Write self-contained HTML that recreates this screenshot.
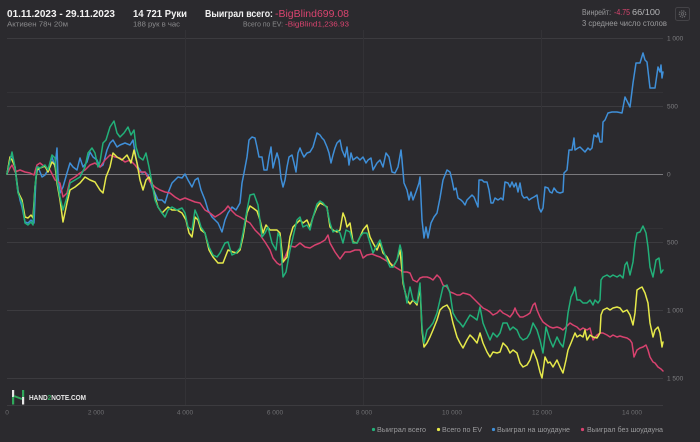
<!DOCTYPE html>
<html>
<head>
<meta charset="utf-8">
<style>
html,body{margin:0;padding:0;background:#2b2a2e;}
svg{display:block;}
text{font-family:"Liberation Sans",sans-serif;}
</style>
</head>
<body>
<svg width="700" height="442" viewBox="0 0 700 442" xmlns="http://www.w3.org/2000/svg">
<rect x="0" y="0" width="700" height="442" fill="#2b2a2e"/>

<!-- header -->
<text x="7" y="17" font-size="10.5" font-weight="bold" fill="#f2f2f2" textLength="108" lengthAdjust="spacingAndGlyphs">01.11.2023 - 29.11.2023</text>
<text x="7" y="26.5" font-size="7.5" fill="#8a8a8c" textLength="61" lengthAdjust="spacingAndGlyphs">Активен 78ч 20м</text>
<text x="133" y="17" font-size="10.5" font-weight="bold" fill="#f2f2f2" textLength="54" lengthAdjust="spacingAndGlyphs">14 721 Руки</text>
<text x="133" y="26.5" font-size="7.5" fill="#8a8a8c" textLength="47" lengthAdjust="spacingAndGlyphs">188 рук в час</text>
<text x="205" y="17" font-size="10.5" font-weight="bold" fill="#f2f2f2" textLength="68" lengthAdjust="spacingAndGlyphs">Выиграл всего:</text>
<text x="275" y="17" font-size="10.5" fill="#d9446f" textLength="74" lengthAdjust="spacingAndGlyphs">-BigBlind699.08</text>
<text x="243" y="26.5" font-size="7.5" fill="#8a8a8c" textLength="40" lengthAdjust="spacingAndGlyphs">Всего по EV:</text>
<text x="285" y="26.5" font-size="7.5" fill="#d9446f" textLength="64" lengthAdjust="spacingAndGlyphs">-BigBlind1,236.93</text>

<text x="582" y="15" font-size="8" fill="#9a9a9c" textLength="29" lengthAdjust="spacingAndGlyphs">Винрейт:</text>
<text x="614" y="15" font-size="8" fill="#d9446f" textLength="16" lengthAdjust="spacingAndGlyphs">-4.75</text>
<text x="632" y="15" font-size="8" fill="#b4b4b6" textLength="28" lengthAdjust="spacingAndGlyphs">66/100</text>
<text x="582" y="26" font-size="8" fill="#9a9a9c" textLength="85" lengthAdjust="spacingAndGlyphs">3 среднее число столов</text>
<rect x="675.5" y="7.5" width="14" height="13" rx="2" fill="none" stroke="#444347" stroke-width="1"/>
<circle cx="682.5" cy="14" r="3.2" fill="none" stroke="#6d6d70" stroke-width="1.2" stroke-dasharray="1.3 0.9"/>
<circle cx="682.5" cy="14" r="1.3" fill="none" stroke="#6d6d70" stroke-width="0.8"/>

<!-- grid -->
<g stroke="#3c3b3f" stroke-width="1">
<line x1="7" y1="38.5" x2="663" y2="38.5"/>
<line x1="7" y1="106.5" x2="663" y2="106.5"/>
<line x1="7" y1="242.5" x2="663" y2="242.5"/>
<line x1="7" y1="310.5" x2="663" y2="310.5"/>
<line x1="7" y1="378.5" x2="663" y2="378.5"/>
<line x1="7" y1="405.5" x2="663" y2="405.5"/>
</g>
<g stroke="#333236" stroke-width="1">
<line x1="7" y1="92.5" x2="663" y2="92.5"/>
<line x1="7" y1="228.5" x2="663" y2="228.5"/>
<line x1="185.5" y1="30" x2="185.5" y2="405"/>
<line x1="363.5" y1="30" x2="363.5" y2="405"/>
<line x1="541.5" y1="30" x2="541.5" y2="405"/>
</g>
<line x1="7" y1="174.5" x2="663" y2="174.5" stroke="#7a797d" stroke-width="1"/>

<!-- y labels -->
<g font-size="6.5" fill="#7d7d80">
<text x="667" y="40.5">1 000</text>
<text x="667" y="108.5">500</text>
<text x="667" y="176.5">0</text>
<text x="667" y="244.5">500</text>
<text x="667" y="312.5">1 000</text>
<text x="667" y="380.5">1 500</text>
</g>

<!-- x labels -->
<g font-size="6.5" fill="#6f6f72" text-anchor="middle">
<text x="7" y="414.5">0</text>
<text x="96" y="414.5">2 000</text>
<text x="185" y="414.5">4 000</text>
<text x="275" y="414.5">6 000</text>
<text x="364" y="414.5">8 000</text>
<text x="452" y="414.5">10 000</text>
<text x="542" y="414.5">12 000</text>
<text x="632" y="414.5">14 000</text>
</g>

<!-- logo -->
<rect x="12" y="390" width="2.2" height="7" fill="#e8e8e8"/>
<rect x="12" y="397" width="2.2" height="7.5" fill="#2fa85a"/>
<rect x="22" y="390" width="2.2" height="7" fill="#2fa85a"/>
<rect x="22" y="397" width="2.2" height="7.5" fill="#e8e8e8"/>
<line x1="14" y1="396" x2="22" y2="399" stroke="#2fa85a" stroke-width="2"/>
<text x="29" y="400" font-size="7" font-weight="bold" fill="#e8e8e8" textLength="57" lengthAdjust="spacingAndGlyphs">HAND<tspan fill="#2fa85a">2</tspan>NOTE.COM</text>

<!-- series -->
<g fill="none" stroke-width="1.5" stroke-linejoin="round" stroke-linecap="round">
<polyline stroke="#3f8fd8" points="7,174 10,158 12,155 15,167 18,190 20,200 22,207 25,222 28,223 31,220 34,223 36,177 38,167 42,177 45,175 48,170 52,157 55,167 57,148 58,177 60,193 63,187 67,173 70,163 73,167 77,170 80,158 83,167 87,162 90,152 93,157 97,160 100,167 103,165 107,150 110,143 113,140 117,147 120,145 125,143 130,145 133,140 136,158 138,167 142,173 145,172 148,175 152,187 155,193 158,200 162,200 165,203 168,193 172,183 175,180 178,177 182,178 185,174 188,180 192,187 195,180 198,178 201,190 205,200 208,210 212,217 215,220 218,223 222,232 225,220 228,213 232,207 236,210 240,203 242,183 244,173 247,157 249,140 252,137 255,138 257,147 259,157 262,157 264,170 267,170 269,157 271,147 273,168 275,160 277,153 279,160 281,178 283,187 285,180 287,167 289,157 292,155 294,163 296,172 298,153 300,148 302,153 304,157 307,153 310,152 313,147 315,140 317,133 320,135 322,138 324,140 327,147 329,153 331,163 333,155 335,148 337,143 340,140 342,150 345,157 347,147 349,165 351,153 353,160 357,157 360,160 363,157 366,163 368,160 371,158 373,170 377,163 380,160 383,167 386,153 389,157 392,172 395,173 398,167 401,150 402,160 404,183 407,190 409,200 411,192 413,200 416,192 419,183 420,177 422,220 424,238 426,227 428,238 431,223 434,217 437,213 440,198 443,180 447,170 450,172 452,180 454,190 456,188 458,198 461,200 463,202 465,205 467,200 469,198 472,195 474,197 476,202 478,207 479,180 482,180 484,182 487,182 489,190 491,203 493,203 495,198 498,200 501,198 503,200 505,182 508,183 510,187 512,182 514,187 516,183 518,192 520,183 522,195 524,198 527,197 529,200 532,198 534,197 537,195 539,208 541,212 543,208 545,187 548,188 550,192 552,193 554,188 557,192 560,193 563,192 564,173 567,170 569,150 572,150 574,138 575,150 578,148 580,147 583,150 585,152 588,148 590,150 592,148 594,135 597,137 598,133 600,142 602,142 603,122 605,120 608,113 612,112 617,112 622,113 625,97 630,107 633,83 636,63 640,63 643,53 645,60 647,62 650,88 655,88 658,67 660,72 661,65 662,78 663,72"/>
<polyline stroke="#d8426f" points="7,174 10,168 12,165 15,172 20,170 25,172 30,173 34,175 37,165 40,163 45,167 50,170 55,180 60,183 63,197 67,193 70,180 75,177 80,173 85,170 90,165 95,163 100,167 105,160 110,155 115,157 120,158 125,162 130,160 135,165 140,172 145,172 150,182 155,187 160,190 165,192 170,193 175,197 180,200 185,198 190,200 195,202 200,203 205,210 210,213 215,217 220,214 225,210 228,206 232,211 236,215 240,217 245,220 250,223 255,230 260,235 265,242 270,250 273,258 277,263 280,265 283,262 287,252 290,246 295,247 300,243 305,247 310,248 315,245 320,243 325,240 328,235 330,243 335,252 340,259 345,252 350,252 355,250 360,250 363,258 367,255 372,254 377,256 380,257 385,260 390,263 395,267 400,270 403,272 407,272 410,273 413,280 417,282 420,278 423,277 427,277 430,278 433,280 437,275 440,278 443,285 447,287 450,292 453,293 457,295 460,295 463,293 467,294 470,295 473,298 477,302 480,305 483,308 487,310 490,312 493,315 497,313 500,310 503,313 507,315 510,317 513,313 515,308 517,313 520,317 523,317 527,315 530,313 533,305 535,303 537,310 540,317 543,322 547,325 550,327 553,328 557,327 560,328 563,330 566,327 570,323 573,325 577,327 580,330 583,328 587,330 590,328 593,340 597,335 600,333 603,333 607,335 610,337 613,335 617,337 620,336 623,337 627,338 630,340 632,343 634,357 637,350 640,348 643,347 646,345 648,350 650,357 653,362 655,363 658,367 661,369 663,371"/>
<polyline stroke="#e6e94a" points="7,174 10,157 12,160 15,167 18,192 22,200 25,217 28,218 31,215 33,218 35,187 37,170 40,168 45,166 48,172 52,162 55,165 57,183 60,200 63,222 67,203 70,190 75,187 80,183 85,177 90,180 95,182 100,190 103,193 106,177 110,167 113,153 117,157 122,160 127,155 131,163 134,150 137,163 140,180 143,190 146,180 149,177 152,183 155,197 158,207 162,213 165,210 168,207 172,210 177,210 182,213 186,220 189,233 192,237 195,217 198,220 201,230 205,233 209,250 213,257 218,263 223,263 228,250 233,252 237,253 240,250 243,237 247,213 250,206 253,208 257,211 260,220 263,233 266,225 270,230 273,230 277,230 280,233 283,262 287,257 290,237 293,227 297,223 300,220 303,223 307,220 310,227 313,217 317,207 320,203 324,205 327,207 330,227 333,230 337,232 340,230 343,213 345,218 347,227 350,223 353,242 357,243 360,237 363,230 367,225 370,237 373,243 377,250 380,243 383,253 387,257 390,263 393,267 397,260 400,250 402,270 403,283 407,300 410,304 413,300 417,305 420,287 422,330 424,347 427,343 430,337 433,330 437,320 440,310 443,307 447,305 450,310 453,323 457,337 460,343 463,348 467,340 470,335 473,338 477,343 480,333 483,343 487,352 490,357 493,352 497,353 500,352 503,343 507,347 510,353 513,350 517,353 520,363 523,367 527,365 530,360 533,350 537,360 540,372 542,378 545,357 548,363 550,362 553,367 557,360 560,367 563,373 566,360 568,350 571,343 575,333 577,337 580,335 583,337 585,330 587,340 590,335 593,337 597,338 600,333 601,315 603,310 607,308 610,310 613,308 617,307 620,308 623,312 627,310 630,315 633,325 635,313 637,290 640,288 642,287 645,293 648,303 650,323 653,337 655,330 658,327 660,333 662,347 663,342"/>
<polyline stroke="#22b079" points="7,174 9,165 12,152 15,167 18,193 22,203 25,223 28,225 31,222 33,225 35,187 37,167 40,168 45,165 48,170 52,155 55,158 57,180 60,197 63,210 67,197 70,183 75,180 80,177 85,167 88,153 92,148 95,153 98,167 100,162 103,143 106,140 110,127 114,121 117,133 120,137 124,133 128,127 131,135 134,130 136,147 139,157 143,160 146,153 149,167 152,183 155,200 158,207 162,213 165,217 168,210 172,207 177,210 182,208 185,213 188,227 192,230 195,210 198,217 201,227 205,233 209,247 213,255 217,257 220,253 225,243 228,242 232,255 236,253 240,248 243,233 247,210 250,195 254,194 258,205 262,237 265,233 268,227 272,243 276,250 278,233 280,237 283,277 286,272 290,250 293,237 297,220 300,217 303,227 307,225 310,230 313,217 317,204 320,201 323,203 327,208 330,223 333,232 337,230 340,233 343,243 346,230 350,232 353,243 357,243 360,237 363,233 367,233 370,243 373,253 376,247 380,240 383,250 387,260 390,267 393,267 397,260 400,245 402,253 403,280 407,303 410,287 413,300 417,303 420,283 422,327 424,343 427,330 430,327 433,323 437,313 440,300 443,287 447,285 450,293 453,313 457,320 460,323 463,327 467,320 470,315 473,317 477,320 480,307 483,323 487,333 490,340 493,333 497,337 500,333 503,323 507,323 510,330 513,327 517,330 520,337 523,340 527,338 530,333 533,323 537,330 540,340 543,353 546,327 550,340 553,347 557,337 560,343 563,347 566,330 568,313 571,297 573,293 575,287 577,300 580,300 583,303 587,303 590,300 593,305 595,300 598,303 600,300 601,280 603,277 607,275 610,277 613,275 617,277 620,275 623,278 625,265 627,262 630,275 633,262 635,243 637,233 640,232 643,226 646,233 648,247 650,267 653,277 656,260 659,258 661,273 663,270"/>
</g>

<!-- legend -->
<g font-size="7" fill="#9a9a9c">
<circle cx="373.5" cy="429.5" r="1.6" fill="#22b079"/>
<text x="377" y="432" textLength="49" lengthAdjust="spacingAndGlyphs">Выиграл всего</text>
<circle cx="438.5" cy="429.5" r="1.6" fill="#e6e94a"/>
<text x="442" y="432" textLength="40" lengthAdjust="spacingAndGlyphs">Всего по EV</text>
<circle cx="493.5" cy="429.5" r="1.6" fill="#3f8fd8"/>
<text x="497" y="432" textLength="73" lengthAdjust="spacingAndGlyphs">Выиграл на шоудауне</text>
<circle cx="582.5" cy="429.5" r="1.6" fill="#d8426f"/>
<text x="587" y="432" textLength="76" lengthAdjust="spacingAndGlyphs">Выиграл без шоудауна</text>
</g>
</svg>
</body>
</html>
